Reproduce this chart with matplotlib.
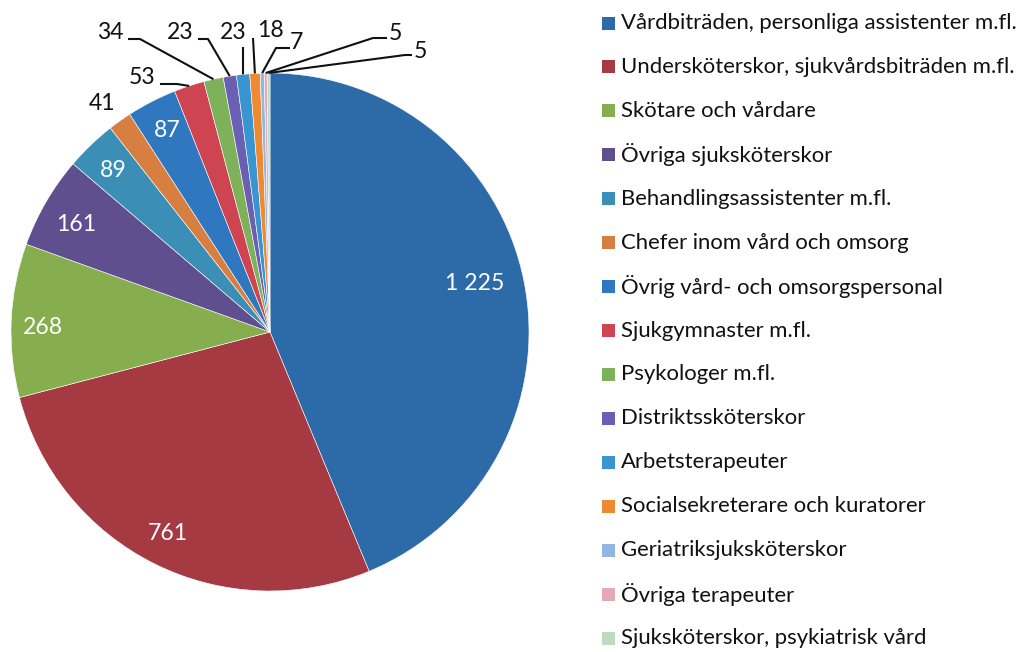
import matplotlib
matplotlib.use("Agg")
import matplotlib.pyplot as plt
from matplotlib.patches import Rectangle
import numpy as np

plt.rcParams['font.family'] = ['Lato', 'DejaVu Sans']

categories = [
    "Vårdbiträden, personliga assistenter m.fl.",
    "Undersköterskor, sjukvårdsbiträden m.fl.",
    "Skötare och vårdare",
    "Övriga sjuksköterskor",
    "Behandlingsassistenter m.fl.",
    "Chefer inom vård och omsorg",
    "Övrig vård- och omsorgspersonal",
    "Sjukgymnaster m.fl.",
    "Psykologer m.fl.",
    "Distriktssköterskor",
    "Arbetsterapeuter",
    "Socialsekreterare och kuratorer",
    "Geriatriksjuksköterskor",
    "Övriga terapeuter",
    "Sjuksköterskor, psykiatrisk vård",
]
values = [1225, 761, 268, 161, 89, 41, 87, 53, 34, 23, 23, 18, 7, 5, 5]
colors = ["#2C6BA8", "#A53A42", "#86AE4E", "#5F4F8F", "#3B8FB6", "#D67F40",
          "#2F78C0", "#CE4450", "#7DB25A", "#6A5FB3", "#3895D2", "#EE8A32",
          "#92B6E2", "#E3A9B7", "#BBDCC2"]

W, H = 1022, 652
CX, CY, R = 270, 332, 259

def px(x, y):
    return ((x - CX) / R, (CY - y) / R)

fig = plt.figure(figsize=(W / 100, H / 100), dpi=100)
fig.patch.set_facecolor("white")
ax = fig.add_axes([0, 0, 1, 1])
wedges, _ = ax.pie(values, colors=colors, startangle=90, counterclock=False,
                   radius=1, frame=False,
                   wedgeprops=dict(linewidth=0.4, edgecolor="white"))
ax.set_xlim(-CX / R, (W - CX) / R)
ax.set_ylim(-(H - CY) / R, CY / R)
ax.set_aspect("auto")
ax.axis("off")

def fmt(v):
    return f"{v:,}".replace(",", " ")

FS = 15.5
num_texts = []
# inside labels (index -> pixel position)
inside = {0: (475, 283), 1: (168, 534), 2: (43, 327), 3: (76, 224),
          4: (113, 170), 6: (167, 130)}
for i, (x, y) in inside.items():
    num_texts.append(ax.text(*px(x, y), fmt(values[i]), color="white",
                             fontsize=FS, ha="center", va="center"))

# outside labels: index -> (text pos, leader start, elbow or None)
outside = {
    5: ((102, 103), None, None),
    7: ((142, 77), (160, 84), (177, 84)),
    8: ((110, 32), (128, 39), (140, 39)),
    9: ((180, 32), (198, 39), (208, 39)),
    10: ((233, 32), (243, 47), None),
    11: ((270, 30), (253, 38), None),
    12: ((296, 42), (290, 48), (276, 48)),
    13: ((395, 33), (387, 38), (373, 38)),
    14: ((420, 51), (412, 55), (405, 55)),
}
for i, (tp, start, elbow) in outside.items():
    num_texts.append(ax.text(*px(*tp), fmt(values[i]), color="#111111",
                             fontsize=FS, ha="center", va="center"))
    if start is None:
        continue
    w = wedges[i]
    mid = np.deg2rad((w.theta1 + w.theta2) / 2)
    end = (np.cos(mid), np.sin(mid))
    pts = [px(*start)]
    if elbow is not None:
        pts.append(px(*elbow))
    pts.append(end)
    xs, ys = zip(*pts)
    ax.plot(xs, ys, color="#111111", lw=1.5, solid_capstyle="butt")

# legend
y0, dy = 23, 43.93
texts = []
for i, (lab, w) in enumerate(zip(categories, wedges)):
    yc = y0 + i * dy
    fig.patches.append(Rectangle((602 / W, 1 - (yc + 6.5) / H), 13 / W, 13 / H,
                                 transform=fig.transFigure,
                                 facecolor=w.get_facecolor(), edgecolor="none"))
    t = fig.text(621 / W, 1 - yc / H, lab, fontsize=FS, color="#111111",
                 ha="left", va="center")
    texts.append(t)

fig.canvas.draw()
r = fig.canvas.get_renderer()
bw = texts[0].get_window_extent(r).width
scale = 397 / bw
for t in texts:
    t.set_fontsize(FS * scale)
for t in num_texts:
    t.set_fontsize(FS * scale * 1.04)

fig.savefig("out.png", dpi=100, facecolor="white")
